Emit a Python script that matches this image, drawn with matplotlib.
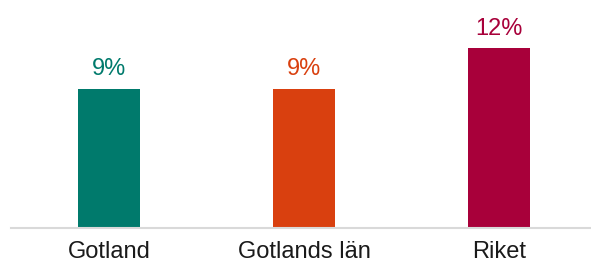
import matplotlib
matplotlib.use("Agg")
import matplotlib.pyplot as plt

kategorier = ["Gotland", "Gotlands län", "Riket"]
andel = [9.3, 9.3, 12.0]
etiketter = ["9%", "9%", "12%"]
farger = ["#007a6c", "#d9400f", "#a8003a"]

plt.rcParams["font.family"] = ["Liberation Sans", "DejaVu Sans"]

fig = plt.figure(figsize=(5.91, 2.65), dpi=100)
ax = fig.add_axes([11 / 591, 37 / 265, 580 / 591, 228 / 265])

x = range(len(kategorier))
bars = ax.bar(x, andel, width=0.318, color=farger, zorder=2)

for b, txt, c in zip(bars, etiketter, farger):
    ax.annotate(txt, (b.get_x() + b.get_width() / 2, b.get_height()),
                xytext=(0, 6), textcoords="offset points",
                ha="center", va="bottom", color=c, fontsize=17)

ax.set_xlim(-0.503, 2.472)
ax.set_ylim(0, 15.2)
ax.set_xticks(list(x))
ax.set_xticklabels(kategorier, fontsize=17, color="#1a1a1a")
ax.tick_params(axis="x", length=0, pad=9)
ax.set_yticks([])

for s in ["top", "right", "left"]:
    ax.spines[s].set_visible(False)
ax.spines["bottom"].set_color("#d9d9d9")
ax.spines["bottom"].set_linewidth(1.5)

fig.savefig("out.png", dpi=100)
